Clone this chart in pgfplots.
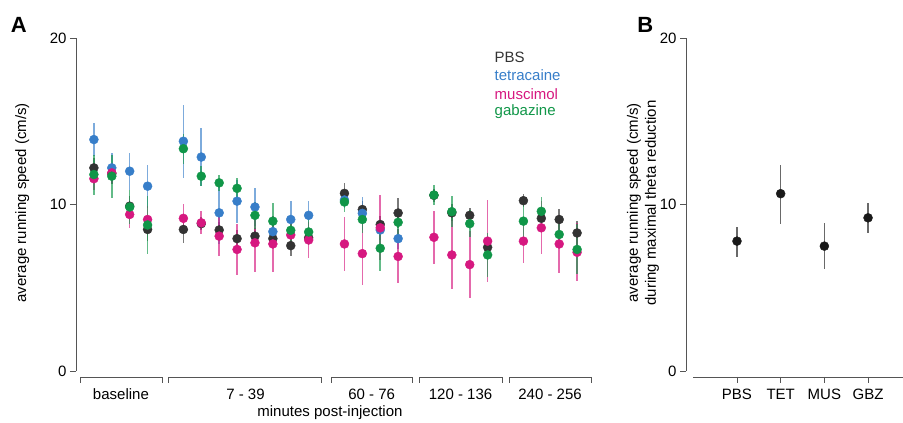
\documentclass[border=0pt]{standalone}
\usepackage{fontspec}
\setmainfont{Liberation Sans}
\usepackage{pgfplots}
\pgfplotsset{compat=1.18}

\definecolor{cpbs}{RGB}{51,51,51}
\definecolor{ctet}{RGB}{55,126,201}
\definecolor{cmus}{RGB}{214,24,128}
\definecolor{cgbz}{RGB}{16,150,72}
\definecolor{spine}{RGB}{85,85,85}

\newcommand\fs{\fontsize{15bp}{18bp}\selectfont}
\tikzset{brk/.style={spine, line width=0.8bp}}

\pgfplotsset{
  panel/.style={
    scale only axis,
    height=333bp,
    ymin=0, ymax=20,
    ytick={0,10,20},
    axis y line*=left,
    axis x line=none,
    tick align=outside,
    major tick length=6bp,
    tick style={spine, line width=0.8bp},
    axis line style={spine, line width=0.8bp},
    tick label style={font=\fs},
    /pgf/number format/assume math mode=true,
    clip=false,
  },
  grp/.style={only marks, mark=*, mark size=4.5bp, #1,
    mark options={draw=none, fill=#1},
    error bars/.cd, y dir=both, y explicit,
    error bar style={line width=1.6bp, #1, opacity=0.65},
    error mark=none},
}

\begin{document}
\begin{tikzpicture}
\useasboundingbox (-76bp,-52bp) rectangle (827bp,371bp);

% Panel A
\begin{axis}[panel, at={(0,0)}, anchor=south west,
  width=519bp, xmin=0, xmax=29]
\addplot[grp=cpbs] coordinates {
  (1,12.2)+-(0,0.6) (2,11.85)+-(0,0.6) (3,9.9)+-(0,0.6) (4,8.5)+-(0,0.7)
  (6,8.5)+-(0,0.8) (7,8.85)+-(0,0.4) (8,8.47)+-(0,0.5) (9,7.95)+-(0,0.5)
  (10,8.1)+-(0,0.5) (11,7.95)+-(0,0.4) (12,7.53)+-(0,0.6) (13,8.0)+-(0,0.4)
  (15,10.67)+-(0,0.6) (16,9.7)+-(0,0.5) (17,8.8)+-(0,0.5) (18,9.49)+-(0,0.9)
  (20,10.55)+-(0,0.4) (21,9.5)+-(0,0.5) (22,9.35)+-(0,0.45) (23,7.43)+-(0,0.5)
  (25,10.23)+-(0,0.4) (26,9.17)+-(0,0.5) (27,9.1)+-(0,0.63) (28,8.29)+-(0,0.74)};
\addplot[grp=ctet] coordinates {
  (1,13.9)+-(0,1.0) (2,12.2)+-(0,0.9) (3,12.0)+-(0,1.1) (4,11.1)+-(0,1.3)
  (6,13.8)+-(0,2.2) (7,12.85)+-(0,1.75) (8,9.5)+-(0,1.9) (9,10.2)+-(0,1.3)
  (10,9.85)+-(0,1.15) (11,8.37)+-(0,0.8) (12,9.1)+-(0,1.1) (13,9.35)+-(0,0.85)
  (15,10.27)+-(0,0.5) (16,9.47)+-(0,1.0) (17,8.47)+-(0,0.6) (18,7.95)+-(0,0.6)};
\addplot[grp=cmus] coordinates {
  (1,11.55)+-(0,0.7) (2,11.9)+-(0,0.6) (3,9.4)+-(0,0.8) (4,9.1)+-(0,0.8)
  (6,9.17)+-(0,0.83) (7,8.9)+-(0,0.7) (8,8.1)+-(0,1.2) (9,7.3)+-(0,1.55)
  (10,7.7)+-(0,1.75) (11,7.63)+-(0,1.66) (12,8.17)+-(0,0.8) (13,7.87)+-(0,1.07)
  (15,7.63)+-(0,1.6) (16,7.05)+-(0,1.9) (17,8.6)+-(0,1.95) (18,6.88)+-(0,1.62)
  (20,8.03)+-(0,1.6) (21,6.97)+-(0,2.07) (22,6.39)+-(0,2.0) (23,7.8)+-(0,2.47)
  (25,7.8)+-(0,1.3) (26,8.6)+-(0,1.6) (27,7.63)+-(0,1.76) (28,7.13)+-(0,1.75)};
\addplot[grp=cgbz] coordinates {
  (1,11.8)+-(0,1.2) (2,11.7)+-(0,1.3) (3,9.85)+-(0,1.0) (4,8.77)+-(0,1.75)
  (6,13.35)+-(0,0.9) (7,11.7)+-(0,0.6) (8,11.3)+-(0,0.5) (9,10.97)+-(0,0.65)
  (10,9.35)+-(0,0.8) (11,9.0)+-(0,1.1) (12,8.45)+-(0,0.8) (13,8.35)+-(0,0.8)
  (15,10.15)+-(0,0.58) (16,9.1)+-(0,0.8) (17,7.37)+-(0,1.37) (18,8.93)+-(0,0.8)
  (20,10.57)+-(0,0.6) (21,9.57)+-(0,0.93) (22,8.85)+-(0,0.8) (23,6.97)+-(0,1.3)
  (25,9.0)+-(0,1.0) (26,9.59)+-(0,0.88) (27,8.2)+-(0,0.8) (28,7.3)+-(0,1.5)};
% group brackets under the x range
\draw[brk] (axis cs:0.22,-0.72) |- (axis cs:4.8,-0.36) -- (axis cs:4.8,-0.72);
\draw[brk] (axis cs:5.19,-0.72) |- (axis cs:13.74,-0.36) -- (axis cs:13.74,-0.72);
\draw[brk] (axis cs:14.25,-0.72) |- (axis cs:18.78,-0.36) -- (axis cs:18.78,-0.72);
\draw[brk] (axis cs:19.17,-0.72) |- (axis cs:23.8,-0.36) -- (axis cs:23.8,-0.72);
\draw[brk] (axis cs:24.2,-0.72) |- (axis cs:28.78,-0.36) -- (axis cs:28.78,-0.72);
\node[font=\fs] at (axis cs:2.51,-1.4) {baseline};
\node[font=\fs] at (axis cs:9.47,-1.4) {7 - 39};
\node[font=\fs] at (axis cs:16.52,-1.4) {60 - 76};
\node[font=\fs] at (axis cs:21.49,-1.4) {120 - 136};
\node[font=\fs] at (axis cs:26.49,-1.4) {240 - 256};
\node[font=\fs] at (axis cs:14.19,-2.5) {minutes post-injection};
\node[font=\fs, rotate=90] at (axis cs:-3.0,10.1) {average running speed (cm/s)};
\node[font=\fontsize{22bp}{24bp}\selectfont\bfseries] at (axis cs:-3.2,20.8) {A};
% legend
\node[font=\fs, anchor=west, text=cpbs] at (axis cs:23.2,18.86) {PBS};
\node[font=\fs, anchor=west, text=ctet] at (axis cs:23.2,17.78) {tetracaine};
\node[font=\fs, anchor=west, text=cmus] at (axis cs:23.2,16.64) {muscimol};
\node[font=\fs, anchor=west, text=cgbz] at (axis cs:23.2,15.56) {gabazine};
\end{axis}

% Panel B
\begin{axis}[panel, at={(610bp,0)}, anchor=south west,
  width=217bp, xmin=-0.167, xmax=4.8]
\addplot[grp=black!90] coordinates {
  (1,7.8) += (0,0.85) -= (0,0.95)
  (2,10.65) += (0,1.75) -= (0,1.85)
  (3,7.5) += (0,1.4) -= (0,1.4)
  (4,9.2) += (0,0.9) -= (0,0.9)};
\draw[brk] (axis cs:0,-0.36) -- (axis cs:4.8,-0.36);
\draw[brk] (axis cs:1,-0.36) -- (axis cs:1,-0.72);
\draw[brk] (axis cs:2,-0.36) -- (axis cs:2,-0.72);
\draw[brk] (axis cs:3,-0.36) -- (axis cs:3,-0.72);
\draw[brk] (axis cs:4,-0.36) -- (axis cs:4,-0.72);
\node[font=\fs] at (axis cs:1,-1.4) {PBS};
\node[font=\fs] at (axis cs:2,-1.4) {TET};
\node[font=\fs] at (axis cs:3,-1.4) {MUS};
\node[font=\fs] at (axis cs:4,-1.4) {GBZ};
\node[font=\fs, rotate=90, align=center] at (axis cs:-1.15,10.1)
  {average running speed (cm/s)\\during maximal theta reduction};
\node[font=\fontsize{22bp}{24bp}\selectfont\bfseries] at (axis cs:-1.1,20.8) {B};
\end{axis}
\end{tikzpicture}
\end{document}
